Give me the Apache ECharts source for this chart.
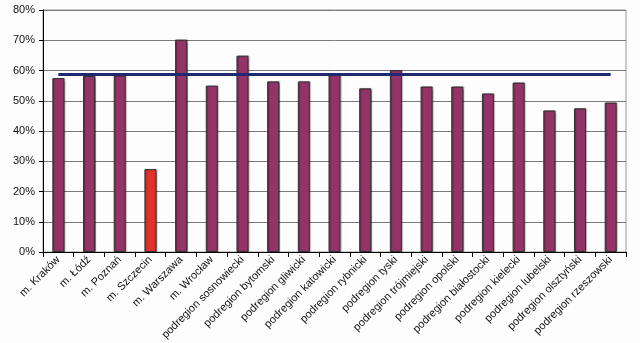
<!DOCTYPE html>
<html>
<head>
<meta charset="utf-8">
<script src="https://cdn.jsdelivr.net/npm/echarts@6/dist/echarts.min.js"></script>
<style>
html,body{margin:0;padding:0;background:#fcfdfc;}
#chart{width:640px;height:343px;}
</style>
</head>
<body>
<div id="chart"></div>
<script>
const categories = ["m. Kraków","m. Łódź","m. Poznań","m. Szczecin","m. Warszawa","m. Wrocław","podregion sosnowiecki","podregion bytomski","podregion gliwicki","podregion katowicki","podregion rybnicki","podregion tyski","podregion trójmiejski","podregion opolski","podregion białostocki","podregion kielecki","podregion lubelski","podregion olsztyński","podregion rzeszowski"];
const values = [57.5, 58.2, 58.4, 27.4, 70.2, 55.0, 64.9, 56.4, 56.4, 58.5, 54.1, 60.1, 54.7, 54.7, 52.4, 56.0, 46.8, 47.5, 49.4];
const averageValue = 58.6;
const highlighted = "m. Szczecin";
const yTicks = [0, 10, 20, 30, 40, 50, 60, 70, 80];

const chart = echarts.init(document.getElementById('chart'), null, {renderer: 'canvas'});
chart.setOption({
  backgroundColor: '#fcfdfc',
  animation: false,
  grid: {left: 43, right: 14, top: 10, bottom: 91, show: true, borderColor: '#999', borderWidth: 1, backgroundColor: 'transparent'},
  xAxis: {
    type: 'category',
    data: categories,
    boundaryGap: true,
    axisLine: {lineStyle: {color: '#000', width: 1}},
    axisTick: {show: true, alignWithLabel: false, length: 5, lineStyle: {color: '#000'}},
    axisLabel: {rotate: 45, interval: 0, fontFamily: 'Liberation Sans, Arial, sans-serif', fontSize: 11, color: '#111', margin: 6}
  },
  yAxis: {
    type: 'value',
    min: yTicks[0],
    max: yTicks[yTicks.length - 1],
    interval: 10,
    axisLine: {show: true, lineStyle: {color: '#000', width: 1}},
    axisTick: {show: true, length: 4, lineStyle: {color: '#000'}},
    axisLabel: {formatter: '{value}%', fontFamily: 'Liberation Sans, Arial, sans-serif', fontSize: 11, color: '#111', margin: 8},
    splitLine: {show: true, lineStyle: {color: '#7a7a7a', width: 1}}
  },
  series: [{
    type: 'bar',
    data: values,
    barWidth: 12,
    itemStyle: {
      color: function (p) { return p.name === highlighted ? '#e2302c' : '#933368'; },
      borderColor: '#333',
      borderWidth: 1,
      shadowColor: 'rgba(0,0,0,0.35)',
      shadowOffsetX: 1,
      shadowOffsetY: 0,
      shadowBlur: 1
    },
    markLine: {
      silent: true,
      symbol: ['none', 'none'],
      label: {show: false},
      lineStyle: {color: '#1f2a6e', width: 3, type: 'solid'},
      data: [[
        {coord: [categories[0], averageValue]},
        {coord: [categories[categories.length - 1], averageValue]}
      ]]
    }
  }]
});
</script>
</body>
</html>
